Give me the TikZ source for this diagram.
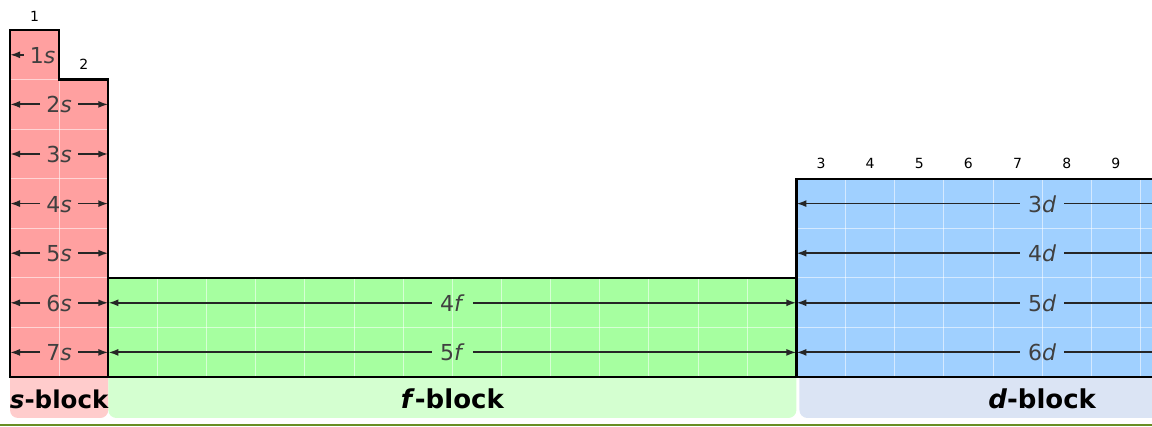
\documentclass[tikz,border=0pt]{standalone}
\usepackage{fontspec}
\setmainfont{DejaVu Sans}
\usepackage{tikz}
\usetikzlibrary{arrows.meta,calc}
\definecolor{sfill}{RGB}{255,160,160}
\definecolor{ffill}{RGB}{166,255,160}
\definecolor{dfill}{RGB}{160,208,255}
\definecolor{sshelf}{RGB}{255,204,204}
\definecolor{fshelf}{RGB}{212,255,208}
\definecolor{dshelf}{RGB}{219,228,244}
\definecolor{rulegreen}{RGB}{104,142,35}
\tikzset{
  blockline/.style={line width=2.2pt,line join=miter},
  cellgrid/.style={white,opacity=0.55,line width=1pt},
  orbital/.style={font=\fontsize{22}{22}\selectfont,text=black!75,
    inner xsep=8pt,inner ysep=0pt,text height=17pt,text depth=0pt},
  orbarrow/.style={-{Latex[length=10pt,width=7pt]},line width=1.8pt,black!85},
  colnum/.style={font=\fontsize{14}{14}\selectfont,inner sep=0pt},
  blocklabel/.style={font=\bfseries\fontsize{26}{26}\selectfont,anchor=base,inner sep=0pt}
}

\begin{document}
\begin{tikzpicture}[x=1pt,y=-1pt]
  % Cell size and top left corner of the 1s cell
  \def\cw{49.15} \def\ch{49.6}
  \def\xo{10} \def\yo{30}
  \pgfmathsetmacro\xa{\xo+\cw}     % between groups 1 and 2
  \pgfmathsetmacro\xs{\xo+2*\cw}   % s | f
  \pgfmathsetmacro\xf{\xo+16*\cw}  % f | d
  \pgfmathsetmacro\xd{\xo+26*\cw}  % right end of d
  \pgfmathsetmacro\ybot{\yo+7*\ch}
  \useasboundingbox (0,0) rectangle (1152,427);
  \clip (0,0) rectangle (1152,427);

  % Block edges
  \coordinate (sleft) at (\xo,0);
  \coordinate (sright) at (\xs,0);
  \coordinate (fright) at (\xf,0);
  \coordinate (dright) at (\xd,0);

  % Shelves under the blocks
  \fill[sshelf,rounded corners=8pt] (\xo,\ybot-10) rectangle (\xs,418);
  \fill[fshelf,rounded corners=8pt] (\xs,\ybot-10) rectangle (\xf,418);
  \fill[dshelf,rounded corners=8pt] (\xf+3,\ybot-10) rectangle (\xd,418);

  % Block fills
  \fill[sfill] (\xo,\yo) -- (\xa,\yo) -- (\xa,\yo+\ch) -- (\xs,\yo+\ch)
    -- (\xs,\ybot) -- (\xo,\ybot) -- cycle;
  \fill[ffill] (\xs,\yo+5*\ch) rectangle (\xf,\ybot);
  \fill[dfill] (\xf,\yo+3*\ch) rectangle (\xd,\ybot);

  % Cell grid
  \draw[cellgrid] (\xa,\yo+\ch) -- (\xa,\ybot);
  \foreach \r in {1,...,6}
    \draw[cellgrid] (\xo,\yo+\r*\ch) -- (\xs,\yo+\r*\ch);
  \foreach \c in {3,...,15}
    \draw[cellgrid] ({\xo+\c*\cw},\yo+5*\ch) -- ({\xo+\c*\cw},\ybot);
  \draw[cellgrid] (\xs,\yo+6*\ch) -- (\xf,\yo+6*\ch);
  \foreach \c in {17,...,25}
    \draw[cellgrid] ({\xo+\c*\cw},\yo+3*\ch) -- ({\xo+\c*\cw},\ybot);
  \foreach \r in {4,5,6}
    \draw[cellgrid] (\xf,\yo+\r*\ch) -- (\xd,\yo+\r*\ch);

  % Orbitals
  \node[orbital,inner xsep=6pt] (orb-s1) at (42.5,\yo+0.5*\ch) {1\textit{s}};
  \draw[orbarrow] (orb-s1.west) -- (orb-s1.west -| sleft);
  \foreach \r in {2,...,7} {
    \node[orbital,inner xsep=6pt] (orb-s\r) at (\xa,{\yo+(\r-0.5)*\ch}) {\r\textit{s}};
    \draw[orbarrow] (orb-s\r.west) -- (orb-s\r.west -| sleft);
    \draw[orbarrow] (orb-s\r.east) -- (orb-s\r.east -| sright);
  }
  \foreach \r/\n in {6/4,7/5} {
    \node[orbital] (orb-f\n) at ({(\xs+\xf)/2},{\yo+(\r-0.5)*\ch}) {\n\textit{f}};
    \draw[orbarrow] (orb-f\n.west) -- (orb-f\n.west -| sright);
    \draw[orbarrow] (orb-f\n.east) -- (orb-f\n.east -| fright);
  }
  \foreach \r/\n in {4/3,5/4,6/5,7/6} {
    \node[orbital] (orb-d\n) at ({(\xf+\xd)/2},{\yo+(\r-0.5)*\ch}) {\n\textit{d}};
    \draw[orbarrow] (orb-d\n.west) -- (orb-d\n.west -| fright);
    \draw[orbarrow] (orb-d\n.east) -- (orb-d\n.east -| dright);
  }

  % Group numbers
  \node[colnum] (grp1) at (\xo+0.5*\cw,\yo-14) {1};
  \node[colnum] (grp2) at (\xo+1.5*\cw,\yo+\ch-15) {2};
  \foreach \g in {3,...,9}
    \node[colnum] (grp\g) at ({\xo+(\g+13.5)*\cw},\yo+3*\ch-15) {\g};

  % Outlines
  \draw[blockline] (\xo,\yo) -- (\xa,\yo) -- (\xa,\yo+\ch) -- (\xs,\yo+\ch)
    -- (\xs,\ybot) -- (\xo,\ybot) -- cycle;
  \draw[blockline] (\xs,\yo+5*\ch) rectangle (\xf,\ybot);
  \draw[blockline] (\xf,\yo+3*\ch) rectangle (\xd,\ybot);

  % Block names
  \node[blocklabel,font=\bfseries\fontsize{24.5}{24.5}\selectfont] (sname)
    at ({(\xo+\xs)/2},408.5) {\textit{s}-block};
  \node[blocklabel] (fname) at ({(\xs+\xf)/2},408.5) {\textit{f}-block};
  \node[blocklabel] (dname) at ({(\xf+\xd)/2},408.5) {\textit{d}-block};

  % Page rule
  \draw[rulegreen,line width=2pt] (0,425) -- (1152,425);
\end{tikzpicture}
\end{document}
